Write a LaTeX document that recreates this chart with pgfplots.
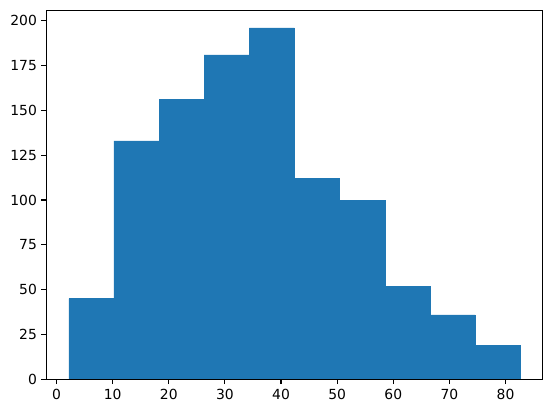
\documentclass[border=0pt]{standalone}
\usepackage{pgfplots}
\pgfplotsset{compat=1.18}
\usepackage{fontspec}
\setmainfont{DejaVu Sans}
\definecolor{mplblue}{HTML}{1F77B4}
\begin{document}
\begin{tikzpicture}
\useasboundingbox (-46.3pt,-33.7pt) rectangle (505.7pt,379.3pt);
\begin{axis}[
  at={(0,0)}, anchor=south west,
  width=496.4pt, height=369pt, scale only axis,
  xmin=-1.82, xmax=86.62, ymin=0, ymax=205.8,
  xtick={0,10,...,80}, ytick={0,25,...,200},
  tick align=outside, tick pos=left,
  major tick length=4.86pt,
  axis line style={line width=1.1pt},
  every tick/.style={black, line width=1.1pt},
  tick label style={font=\fontsize{13.9}{16}\selectfont},
  /pgf/number format/assume math mode=true,
  xticklabel style={yshift=-1pt},
  yticklabel style={xshift=-1pt},
  axis on top,
]
\addplot[ybar interval, fill=mplblue, draw=mplblue, line width=0.3pt] coordinates {
(2.2,45) (10.24,133) (18.28,156) (26.32,181) (34.36,196) (42.40,112)
(50.44,100) (58.48,52) (66.52,36) (74.56,19) (82.6,19)
};
\end{axis}
\end{tikzpicture}
\end{document}
